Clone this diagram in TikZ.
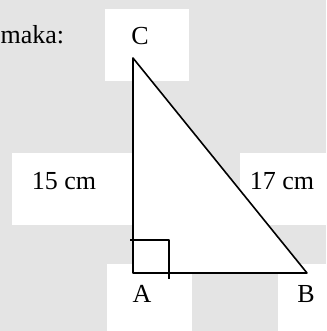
\documentclass[tikz,border=0pt]{standalone}
\usepackage{fontspec}
\setmainfont{Liberation Serif}
\usetikzlibrary{positioning}
\definecolor{markgray}{RGB}{228,228,228}
\tikzset{
  vertex label/.style={
    font=\fontsize{13}{15}\selectfont, inner sep=0pt, anchor=base
  },
  side label/.style={
    font=\fontsize{13}{15}\selectfont, inner sep=0pt, anchor=base
  },
  white patch/.style={
    fill=white, draw=none
  }
}

\begin{document}
\begin{tikzpicture}[x=0.5pt,y=-0.5pt,line width=0.8pt,line join=round]
\useasboundingbox[fill=markgray] (0,0) rectangle (326,331);

% ---------------------------
% white patches
% ---------------------------
\fill[white patch] (105,9) rectangle (189,81);
\fill[white patch] (12,153) rectangle (133,225);
\fill[white patch] (240,153) rectangle (326,225);
\fill[white patch] (107,264) rectangle (192,331);
\fill[white patch] (278,264) rectangle (326,331);

% ---------------------------
% triangle
% ---------------------------
\coordinate (A) at (133,273);
\coordinate (B) at (307,273);
\coordinate (C) at (133,58);
\fill[white] (A) -- (B) -- (C) -- cycle;
\draw (A) -- (B) -- (C) -- cycle;

% right angle at A
\draw (130,240) -- (169,240) -- (169,279);

% ---------------------------
% labels
% ---------------------------
\node[vertex label] (lC) at (140,45) {C};
\node[vertex label] (lA) at (142,302) {A};
\node[vertex label] (lB) at (306,302) {B};
\node[side label] (lAC) at (64,190) {15 cm};
\node[side label] (lBC) at (282,190) {17 cm};
\node[vertex label, anchor=base east] (maka) at (65,44) {maka:};

\end{tikzpicture}
\end{document}
